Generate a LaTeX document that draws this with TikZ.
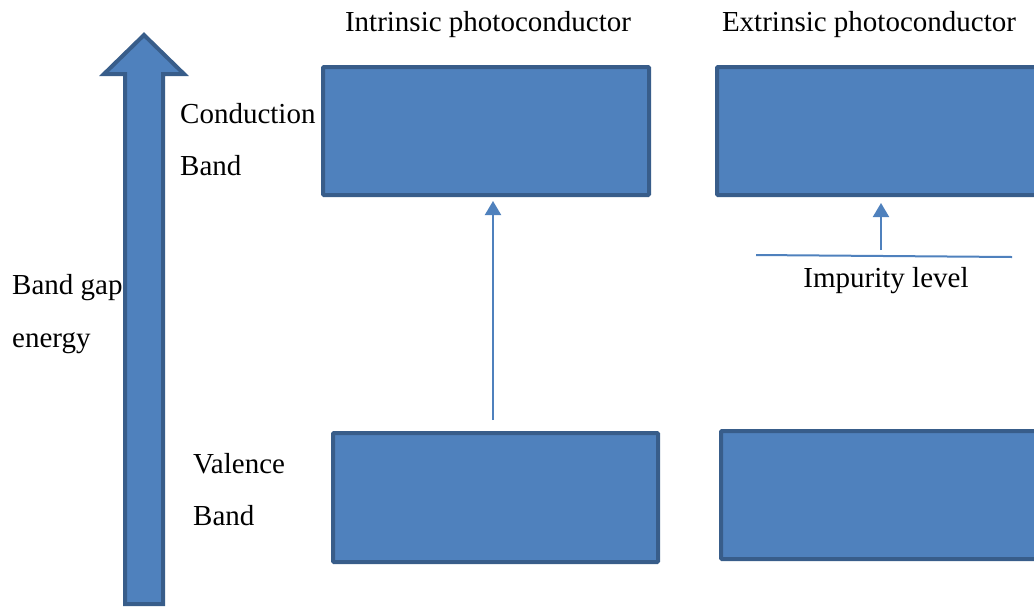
\documentclass[tikz,border=0pt]{standalone}
\usepackage{fontspec}
\setmainfont{Liberation Serif}
\usetikzlibrary{arrows.meta}
\definecolor{bandfill}{HTML}{4F81BD}
\definecolor{bandedge}{HTML}{385D8A}
\tikzset{
  band/.style={fill=bandfill, draw=bandedge, line width=4pt, rounded corners=1pt, inner sep=0pt},
  lbl/.style={anchor=base west, inner sep=0pt, font=\fontsize{29}{34}\selectfont},
  title/.style={anchor=base, inner sep=0pt, font=\fontsize{29}{34}\selectfont},
  upar/.style={draw=bandfill, line width=2pt, -{Triangle[width=16pt,length=14pt]}},
}
\begin{document}
\begin{tikzpicture}[x=1pt,y=-1pt]
\useasboundingbox (0,0) rectangle (1034,606);
\clip (0,0) rectangle (1034,606);
% energy axis arrow
\draw[fill=bandfill, draw=bandedge, line width=4pt, line join=miter]
  (125,604) -- (125,74) -- (104,74) -- (144,35) -- (184,74) -- (163,74) -- (163,604) -- cycle;
% band boxes
\node[band, minimum width=326pt, minimum height=128pt] (icb) at (486,131) {};
\node[band, minimum width=325pt, minimum height=129pt] (ivb) at (495.5,497.5) {};
\node[band, minimum width=333pt, minimum height=128pt] (ecb) at (883.5,131) {};
\node[band, minimum width=329pt, minimum height=128pt] (evb) at (885.5,495) {};
% impurity level
\coordinate (impL) at (756,255);
\coordinate (impR) at (1012,257);
\draw[draw=bandfill, line width=2pt] (impL) -- (impR);
% transitions
\coordinate (ist) at (493,420);
\coordinate (est) at (881,250);
\draw[upar, shorten >=4pt] (ist) -- (ist |- icb.south);
\draw[upar, shorten >=6pt] (est) -- (est |- ecb.south);
% labels
\node[title] (t1) at (488,31) {Intrinsic photoconductor};
\node[title] (t2) at (869,31) {Extrinsic photoconductor};
\node[lbl] (cb1) at (180,123) {Conduction};
\node[lbl] (cb2) at (180,175) {Band};
\node[lbl] (bg1) at (12,294) {Band gap};
\node[lbl] (bg2) at (12,347) {energy};
\node[lbl] (vb1) at (193,473) {Valence};
\node[lbl] (vb2) at (193,525) {Band};
\node[title] (imp) at (886,287) {Impurity level};
\end{tikzpicture}
\end{document}
